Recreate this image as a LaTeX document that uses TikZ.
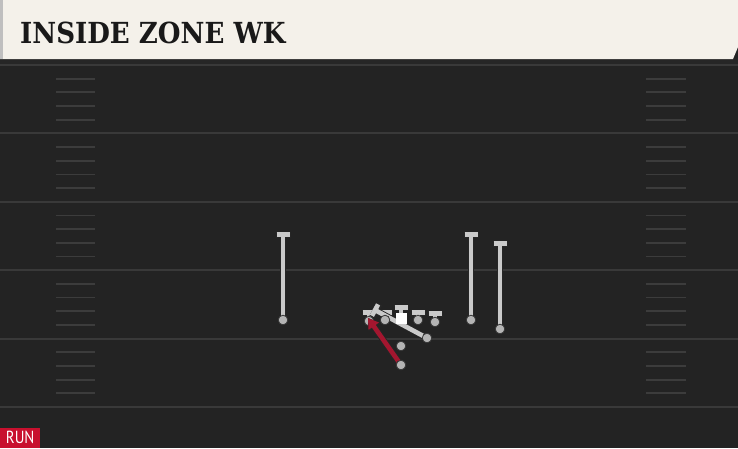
\documentclass[tikz,border=0pt]{standalone}
\usepackage{fontspec}
\newfontfamily\titlefont{DejaVu Serif}
\newfontfamily\tagfont{PT Sans}
\usetikzlibrary{arrows.meta,calc}
\definecolor{fieldbg}{HTML}{232323}
\definecolor{yardline}{HTML}{393939}
\definecolor{hashline}{HTML}{3C3C3C}
\definecolor{headbg}{HTML}{F4F1EA}
\definecolor{tagred}{HTML}{C8102E}
\definecolor{runred}{HTML}{A3162F}
\definecolor{routegray}{HTML}{CACACA}
\definecolor{dotgray}{HTML}{B4B4B4}
\tikzset{
  block/.style={draw=routegray, line width=4.6pt, -{Bar[width=13pt, line width=4.6pt]},
    preaction={draw=black!85, line width=6.4pt, -{Bar[width=15pt, line width=6.4pt]}}},
  run/.style={draw=runred, line width=4.6pt, -{Triangle[width=12pt, length=10pt]},
    preaction={draw=black!85, line width=6.4pt, -{Triangle[width=14pt, length=11pt]}}},
  player/.style={fill=dotgray, draw=black!80, line width=0.8pt},
}
\begin{document}
\begin{tikzpicture}[x=1pt, y=-1pt]
\useasboundingbox (0,0) rectangle (738,448);
% field
\fill[fieldbg] (0,0) rectangle (738,448);
\foreach \y in {65,133.4,201.8,270.2,338.6,407} {
  \draw[yardline, line width=2pt] (0,\y) -- (738,\y);
}
\foreach \y in {65,133.4,201.8,270.2,338.6} {
  \foreach \k in {1,2,3,4} {
    \draw[hashline, line width=1.8pt] (56,\y+\k*13.68) -- (95,\y+\k*13.68);
    \draw[hashline, line width=1.8pt] (646,\y+\k*13.68) -- (686,\y+\k*13.68);
  }
}
% header
\fill[black!85] (0,58) rectangle (738,64);
\fill[headbg] (0,0) -- (738,0) -- (738,47) -- (733,59) -- (0,59) -- cycle;
\fill[black!25] (0,0) rectangle (3,59);
\node[anchor=base west, inner sep=0pt, font=\titlefont\bfseries\fontsize{29}{29}\selectfont, text=black!90]
  (title) at (20,43) {\scalebox{0.9}[1]{INSIDE ZONE WK}};
% run tag
\node[anchor=south west, fill=tagred, minimum width=40pt, minimum height=20pt, inner sep=0pt,
  text=white, font=\tagfont\fontsize{17.5}{17.5}\selectfont] (tag) at (0,448) {\scalebox{0.85}[1]{RUN}};
% players and route ends
\coordinate (wrl) at (283,320);   \coordinate (wrlend) at (283,232);
\coordinate (wrr) at (471,320);   \coordinate (wrrend) at (471,232);
\coordinate (slot) at (500,329);  \coordinate (slotend) at (500,241);
\coordinate (lt) at (369,321);    \coordinate (ltend) at (369,310);
\coordinate (lg) at (385,320);    \coordinate (lgend) at (385,310);
\coordinate (c) at (401,318);     \coordinate (cend) at (401,305);
\coordinate (rg) at (418,320);    \coordinate (rgend) at (418,310);
\coordinate (rtk) at (435,322);   \coordinate (rtend) at (435,311);
\coordinate (wk) at (427,338);    \coordinate (wkend) at (373,309);
\coordinate (qb) at (401,346);
\coordinate (rb) at (401,365);    \coordinate (rbend) at (368,318);
% routes
\draw[block] (wrl) -- (wrlend);
\draw[block] (wrr) -- (wrrend);
\draw[block] (slot) -- (slotend);
\draw[block] (lt) -- (ltend);
\draw[block] (lg) -- (lgend);
\draw[block] (c) -- (cend);
\draw[block] (rg) -- (rgend);
\draw[block] (rtk) -- (rtend);
\draw[block] (wk) -- (wkend);
% dots
\foreach \p in {wrl,wrr,slot,lt,lg,rg,rtk,wk,qb,rb} {
  \filldraw[player] (\p) circle (4.8pt);
}
\draw[run] (rb) -- (rbend);
\filldraw[player] (rb) circle (4.8pt);
\fill[white] ($(c)+(-5.5,-5.5)$) rectangle ($(c)+(5.5,5.5)$);
\end{tikzpicture}
\end{document}
